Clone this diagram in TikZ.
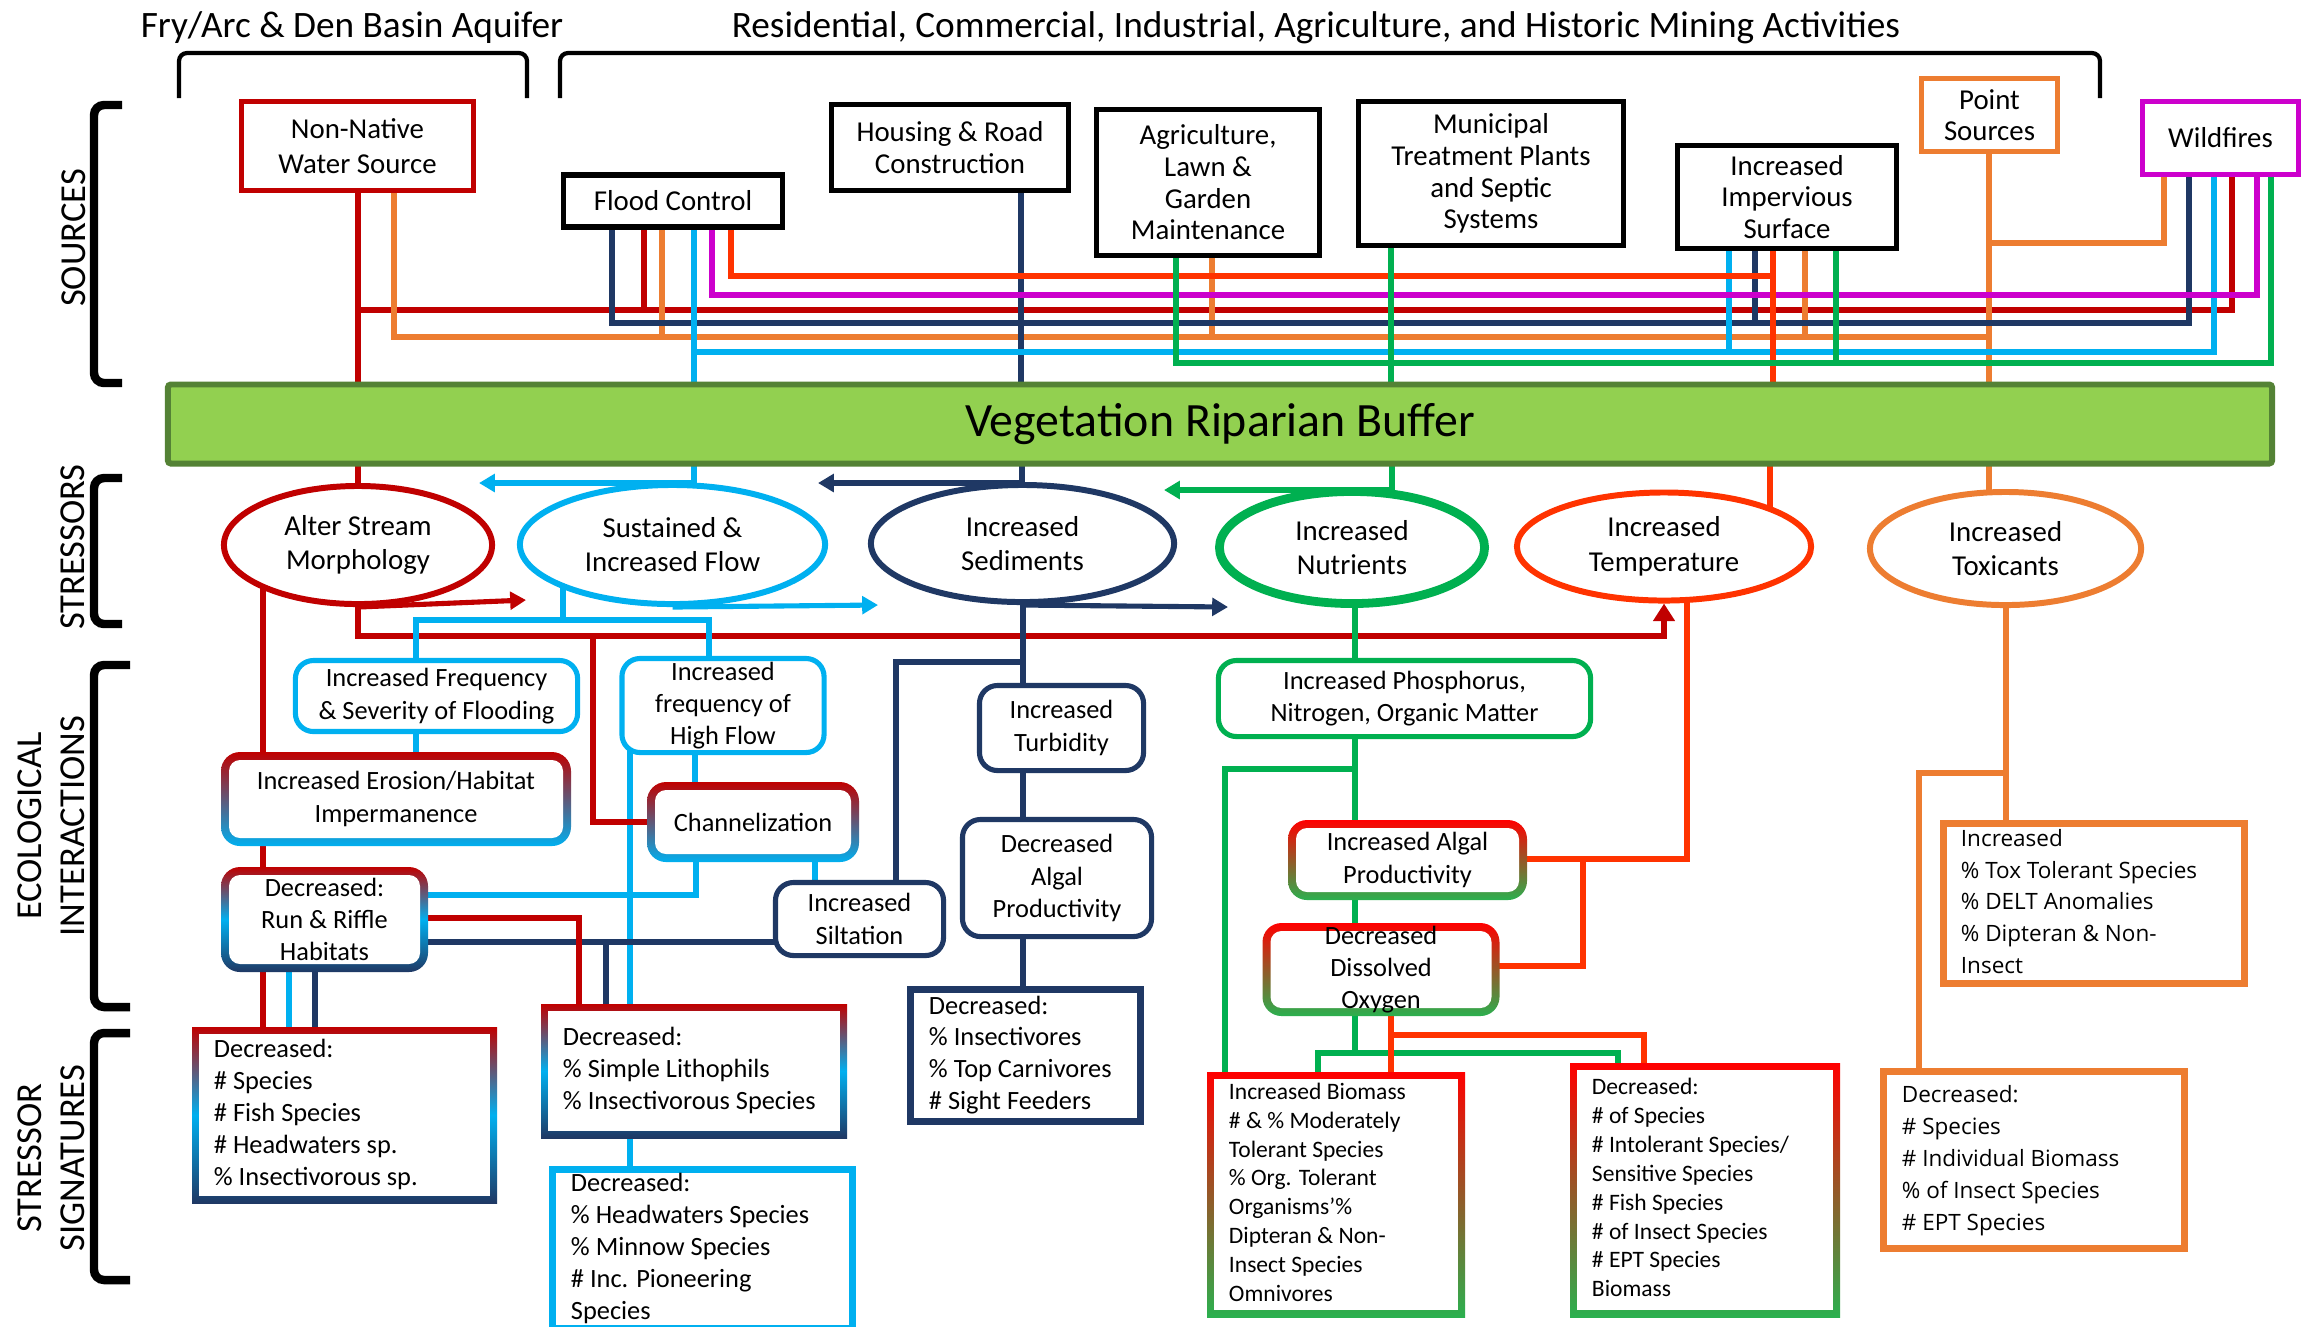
\documentclass[tikz,border=0pt]{standalone}
\usepackage{fontspec}
\setmainfont{Carlito}
\newfontfamily\osans{Open Sans}
\usetikzlibrary{arrows.meta,shapes.geometric}
\pgfdeclarelayer{back}
\pgfdeclarelayer{bg}
\pgfsetlayers{back,bg,main}
\definecolor{dred}{HTML}{C00000}
\definecolor{lblue}{HTML}{00B0F0}
\definecolor{navy}{HTML}{1F3864}
\definecolor{grn}{HTML}{00B050}
\definecolor{ored}{HTML}{FF3300}
\definecolor{orng}{HTML}{ED7D31}
\definecolor{mag}{HTML}{CC00CC}
\definecolor{bufgreen}{HTML}{92D050}
\definecolor{bufedge}{HTML}{548235}
\definecolor{gred}{HTML}{FF0000}
\definecolor{ggrn}{HTML}{2BB04F}
% rounded gradient-bordered box: name, x, y, w, h, shading, text, text options
\newcommand\gbox[8]{%
  \path[#6,rounded corners=0.19cm] ({#2-#4/2},{#3-#5/2}) rectangle ({#2+#4/2},{#3+#5/2});
  \node[fill=white,inner sep=0pt,rounded corners=0.11cm,
        minimum width={(#4-16)*0.01cm},minimum height={(#5-16)*0.01cm}] (#1) at (#2,#3) {};
  \node[inner sep=0pt,align=center,#8] (#1txt) at (#1.center) {#7};}
% sharp gradient-bordered box
\newcommand\gsig[8]{%
  \path[#6] ({#2-#4/2},{#3-#5/2}) rectangle ({#2+#4/2},{#3+#5/2});
  \node[fill=white,inner sep=0pt,
        minimum width={(#4-14)*0.01cm},minimum height={(#5-14)*0.01cm},#8] (#1) at (#2,#3) {#7};}
\newcommand\lft[2]{\makebox[#1][l]{\begin{tabular}{@{}l@{}}#2\end{tabular}}}
\begin{document}
\begin{tikzpicture}[x=0.01cm,y=-0.01cm,
 pipe/.style={line width=1.45pt},
 arrowend/.style={-{Triangle[length=4.5pt,width=5pt]}},
 hdr/.style={inner sep=0pt,font=\fontsize{10.6}{12}\selectfont},
 side/.style={rotate=90,inner sep=0pt,align=center,font=\fontsize{10.4}{12.2}\selectfont},
 hbrk/.style={line width=1.2pt,rounded corners=0.08cm},
 vbrk/.style={line width=2.4pt,rounded corners=0.1cm},
 src/.style={draw,line width=1.45pt,fill=white,inner sep=0pt,align=center,font=\fontsize{8.2}{9}\selectfont},
 ell/.style={ellipse,draw,line width=1.7pt,fill=white,inner sep=0pt,align=center,font=\fontsize{8.2}{9.9}\selectfont},
 ibox/.style={draw,rounded corners=0.18cm,line width=1.45pt,fill=white,inner sep=0pt,align=center,font=\fontsize{7.5}{9.2}\selectfont},
 ifont/.style={align=center,font=\fontsize{7.5}{9.2}\selectfont},
 sfont/.style={font=\fontsize{7.5}{9.07}\selectfont},
 gfont/.style={font=\fontsize{6.7}{8.2}\selectfont},
 ofont/.style={font=\osans\fontsize{6.4}{9.07}\selectfont},
 sbox/.style={draw,line width=2pt,fill=white,inner sep=0pt}]
\useasboundingbox (0,0) rectangle (2310,1326);

% ---------- headers and brackets ----------
\node[hdr] (hfry) at (352,28) {Fry/Arc \& Den Basin Aquifer};
\node[hdr] (hres) at (1316,28) {Residential, Commercial, Industrial, Agriculture, and Historic Mining Activities};
\draw[hbrk] (179,98) -- (179,53) -- (527,53) -- (527,98);
\draw[hbrk] (560,98) -- (560,53) -- (2100,53) -- (2100,98);
\draw[vbrk] (122,105) -- (94,105) -- (94,383) -- (122,383);
\draw[vbrk] (122,478) -- (94,478) -- (94,624) -- (122,624);
\draw[vbrk] (130,665) -- (94,665) -- (94,1007) -- (130,1007);
\draw[vbrk] (130,1033) -- (94,1033) -- (94,1280) -- (130,1280);
\node[side] (lsrc) at (74,238) {SOURCES};
\node[side] (lstr) at (73,547) {STRESSORS};
\node[side] (leco) at (51,826) {ECOLOGICAL\\INTERACTIONS};
\node[side] (lsig) at (51,1158) {STRESSOR\\SIGNATURES};

% ---------- buffer ----------
\node[draw=bufedge,fill=bufgreen,line width=1.7pt,minimum width=21.03cm,minimum height=0.79cm,inner sep=0pt,
      rounded corners=0.03cm,font=\fontsize{13.6}{16}\selectfont] (buf) at (1220,424) {Vegetation Riparian Buffer};

% ---------- sources ----------
\node[src,draw=dred,minimum width=2.32cm,minimum height=0.89cm,font=\fontsize{8.2}{10}\selectfont] (nnws) at (357.5,146) {Non-Native\\Water Source};
\node[src,minimum width=2.19cm,minimum height=0.52cm] (flood) at (673,201) {Flood Control};
\node[src,minimum width=2.37cm,minimum height=0.86cm] (housing) at (950,147.5) {Housing \& Road\\Construction};
\node[src,minimum width=2.23cm,minimum height=1.46cm] (agri) at (1208,182.5) {Agriculture,\\Lawn \&\\Garden\\Maintenance};
\node[src,minimum width=2.65cm,minimum height=1.44cm] (muni) at (1491,173.5) {Municipal\\Treatment Plants\\and Septic\\Systems};
\node[src,minimum width=2.19cm,minimum height=1.03cm] (imperv) at (1787,197) {Increased\\Impervious\\Surface};
\node[src,draw=orng,minimum width=1.36cm,minimum height=0.73cm] (point) at (1989.5,115) {Point\\Sources};
\node[src,draw=mag,minimum width=1.56cm,minimum height=0.73cm] (wild) at (2220.5,138) {Wildfires};

% ---------- stressors ----------
\node[ell,draw=dred,minimum width=2.68cm,minimum height=1.18cm] (asm) at (358,545) {Alter Stream\\Morphology};
\node[ell,draw=lblue,minimum width=3.05cm,minimum height=1.19cm] (sif) at (672.5,544.5) {Sustained \&\\Increased Flow};
\node[ell,draw=navy,minimum width=3.03cm,minimum height=1.17cm] (ised) at (1022.5,543.5) {Increased\\Sediments};
\node[ell,draw=grn,line width=2.5pt,minimum width=2.65cm,minimum height=1.12cm] (inut) at (1352,547.5) {Increased\\Nutrients};
\node[ell,draw=ored,minimum width=2.94cm,minimum height=1.08cm] (itemp) at (1664,546.5) {Increased\\Temperature};
\node[ell,draw=orng,minimum width=2.71cm,minimum height=1.13cm] (itox) at (2005.5,548.5) {Increased\\Toxicants};

% ---------- ecological interactions ----------
\node[ibox,draw=lblue,minimum width=2.82cm,minimum height=0.71cm] (flooding) at (436.5,696) {Increased Frequency\\\& Severity of Flooding};
\node[ibox,draw=lblue,minimum width=2.02cm,minimum height=0.94cm] (highflow) at (723,705.5) {Increased\\frequency of\\High Flow};
\node[ibox,draw=navy,minimum width=1.64cm,minimum height=0.85cm] (turb) at (1061.5,728) {Increased\\Turbidity};
\node[ibox,draw=navy,minimum width=1.89cm,minimum height=1.17cm] (dalg) at (1057,878) {Decreased\\Algal\\Productivity};
\node[ibox,draw=navy,minimum width=1.68cm,minimum height=0.73cm] (silt) at (859.5,919) {Increased\\Siltation};
\node[ibox,draw=grn,minimum width=3.72cm,minimum height=0.76cm] (phos) at (1404.5,698.5) {Increased Phosphorus,\\Nitrogen, Organic Matter};
\gbox{eros}{396}{799}{350}{94}{top color=dred,bottom color=lblue}{Increased Erosion/Habitat\\Impermanence}{ifont}
\gbox{chan}{753}{822}{212}{80}{top color=dred,bottom color=lblue}{Channelization}{ifont}
\gbox{rr}{324.5}{919.5}{207}{105}{top color=dred,bottom color=navy,middle color=lblue}{Decreased:\\Run \& Riffle\\Habitats}{ifont}
\gbox{ialg}{1407.5}{860}{239}{80}{top color=gred,bottom color=ggrn}{Increased Algal\\Productivity}{ifont}
\gbox{ddo}{1381}{969.5}{237}{93}{top color=gred,bottom color=ggrn}{Decreased\\Dissolved\\Oxygen}{ifont}

% ---------- stressor signatures ----------
\gsig{sigA}{344.5}{1115}{305}{176}{top color=dred,bottom color=navy,middle color=lblue}%
  {\lft{2.61cm}{Decreased:\\\# Species\\\# Fish Species\\\# Headwaters sp.\\\% Insectivorous sp.}}{sfont}
\gsig{sigB}{694}{1071}{306}{134}{top color=dred,bottom color=navy,middle color=lblue}%
  {\lft{2.62cm}{Decreased:\\\% Simple Lithophils\\\% Insectivorous Species}}{sfont}
\node[sbox,draw=lblue,minimum width=3.00cm,minimum height=1.59cm,sfont] (sigC) at (702.5,1249)
  {\lft{2.63cm}{Decreased:\\\% Headwaters Species\\\% Minnow Species\\\# Inc. Pioneering\\Species}};
\node[sbox,draw=navy,minimum width=2.30cm,minimum height=1.32cm,sfont] (sigD) at (1025.5,1055.5)
  {\lft{1.93cm}{Decreased:\\\% Insectivores\\\% Top Carnivores\\\# Sight Feeders}};
\gsig{sigE}{1336}{1194.5}{258}{245}{top color=gred,bottom color=ggrn}%
  {\lft{2.14cm}{Increased Biomass\\\# \& \% Moderately\\Tolerant Species\\\% Org. Tolerant\\Organisms’\%\\Dipteran \& Non-\\Insect Species\\Omnivores}}{gfont}
\gsig{sigF}{1705}{1190}{270}{254}{top color=gred,bottom color=ggrn}%
  {\lft{2.26cm}{Decreased:\\\# of Species\\\# Intolerant Species/\\Sensitive Species\\\# Fish Species\\\# of Insect Species\\\# EPT Species\\Biomass}}{gfont}
\node[sbox,draw=orng,minimum width=3.01cm,minimum height=1.53cm,ofont] (sigG) at (2094,903.5)
  {\lft{2.66cm}{Increased\\\% Tox Tolerant Species\\\% DELT Anomalies\\\% Dipteran \& Non-\\Insect}};
\node[sbox,draw=orng,minimum width=3.01cm,minimum height=1.77cm,ofont] (sigH) at (2034,1160)
  {\lft{2.64cm}{Decreased:\\\# Species\\\# Individual Biomass\\\% of Insect Species\\\# EPT Species}};

% ---------- arrow tips (free ends) ----------
\coordinate (tA) at (479,483);
\coordinate (tB) at (818,483);
\coordinate (tC) at (1164,490);
\coordinate (tD) at (526,600);
\coordinate (tE) at (878,605);
\coordinate (tF) at (1228,607);

\begin{pgfonlayer}{back}
\fill[white] (0,0) rectangle (2310,1326);
\end{pgfonlayer}

\begin{pgfonlayer}{bg}
% sources -> buffer
\draw[pipe,dred] (nnws.center -| 358,0) -- (buf.center -| 358,0);
\draw[pipe,dred] (flood.center -| 644,0) -- (644,310);
\draw[pipe,dred] (nnws.center -| 358,0) -- (358,310) -- (2232,310) -- (wild.center -| 2232,0);
\draw[pipe,orng] (nnws.center -| 394,0) -- (394,337) -- (1989,337);
\draw[pipe,orng] (flood.center -| 662,0) -- (662,337);
\draw[pipe,orng] (agri.center -| 1212,0) -- (1212,337);
\draw[pipe,orng] (imperv.center -| 1805,0) -- (1805,337);
\draw[pipe,orng] (point.center -| 1989,0) -- (buf.center -| 1989,0);
\draw[pipe,orng] (wild.center -| 2164,0) -- (2164,243) -- (1989,243);
\draw[pipe,navy] (flood.center -| 612,0) -- (612,323) -- (2189,323) -- (wild.center -| 2189,0);
\draw[pipe,navy] (housing.center -| 1021,0) -- (buf.center -| 1021,0);
\draw[pipe,navy] (imperv.center -| 1755,0) -- (1755,323);
\draw[pipe,lblue] (flood.center -| 694,0) -- (buf.center -| 694,0);
\draw[pipe,lblue] (694,352) -- (2214,352) -- (wild.center -| 2214,0);
\draw[pipe,lblue] (imperv.center -| 1729,0) -- (1729,352);
\draw[pipe,mag] (flood.center -| 712,0) -- (712,295) -- (2257,295) -- (wild.center -| 2257,0);
\draw[pipe,ored] (flood.center -| 731,0) -- (731,276) -- (1773,276);
\draw[pipe,ored] (imperv.center -| 1773,0) -- (buf.center -| 1773,0);
\draw[pipe,grn] (agri.center -| 1176,0) -- (1176,363) -- (2271,363) -- (wild.center -| 2271,0);
\draw[pipe,grn] (muni.center -| 1391,0) -- (buf.center -| 1391,0);
\draw[pipe,grn] (imperv.center -| 1836,0) -- (1836,363);
% buffer -> stressors
\draw[pipe,dred] (buf.center -| 358,0) -- (asm.center);
\draw[pipe,lblue,arrowend] (buf.center -| 694,0) -- (694,483) -- (tA);
\draw[pipe,navy,arrowend] (buf.center -| 1022,0) -- (1022,483) -- (tB);
\draw[pipe,grn,arrowend] (buf.center -| 1392,0) -- (1392,490) -- (tC);
\draw[pipe,ored] (buf.center -| 1770,0) -- (itemp.center -| 1770,0);
\draw[pipe,orng] (buf.center -| 1989,0) -- (itox.center -| 1989,0);
\draw[pipe,dred,arrowend] (asm.south) -- (tD);
\draw[pipe,lblue,arrowend] (sif.south) -- (tE);
\draw[pipe,navy,arrowend] (ised.south) -- (tF);
\draw[pipe,dred,line width=1.7pt,-{Triangle[length=5pt,width=6pt]}] (asm.center) -- (358,636) -- (1664,636) -- (itemp.south);
% light blue interactions
\draw[pipe,lblue] (sif.center -| 563,0) -- (563,620);
\draw[pipe,lblue] (flooding.center -| 416,0) -- (416,620) -- (709,620) -- (highflow.center -| 709,0);
\draw[pipe,lblue] (flooding.center -| 416,0) -- (eros.center -| 416,0);
\draw[pipe,lblue] (highflow.center -| 695,0) -- (chan.center -| 695,0);
\draw[pipe,lblue] (highflow.center -| 630,0) -- (sigC.center -| 630,0);
\draw[pipe,lblue] (chan.center -| 696,0) -- (696,895) -- (rr.center |- 0,895);
\draw[pipe,lblue] (chan.center -| 815,0) -- (silt.center -| 815,0);
% navy interactions
\draw[pipe,navy] (ised.center -| 1023,0) -- (sigD.center -| 1023,0);
\draw[pipe,navy] (1023,662) -- (896,662) -- (silt.center -| 896,0);
\draw[pipe,navy] (silt.center |- 0,942) -- (rr.center |- 0,942);
\draw[pipe,navy] (606,942) -- (sigB.center -| 606,0);
% dark red interactions
\draw[pipe,dred] (asm.center -| 263,0) -- (sigA.center -| 263,0);
\draw[pipe,dred] (593,636) -- (593,822) -- (chan.center);
\draw[pipe,dred] (rr.center |- 0,918) -- (579,918) -- (sigB.center -| 579,0);
\draw[pipe,lblue] (rr.center -| 289,0) -- (sigA.center -| 289,0);
\draw[pipe,navy] (rr.center -| 315,0) -- (sigA.center -| 315,0);
% green interactions
\draw[pipe,grn] (inut.center -| 1355,0) -- (1355,1053);
\draw[pipe,grn] (1355,769) -- (1225,769) -- (sigE.center -| 1225,0);
\draw[pipe,grn] (sigE.center -| 1318,0) -- (1318,1053) -- (1618,1053) -- (sigF.center -| 1618,0);
% temperature interactions
\draw[pipe,ored] (itemp.center -| 1687,0) -- (1687,859) -- (ialg.center |- 0,859);
\draw[pipe,ored] (1583,859) -- (1583,966) -- (ddo.center |- 0,966);
\draw[pipe,ored] (ddo.center -| 1391,0) -- (sigE.center -| 1391,0);
\draw[pipe,ored] (1391,1035) -- (1644,1035) -- (sigF.center -| 1644,0);
% toxicants
\draw[pipe,orng] (itox.center -| 2006,0) -- (sigG.center -| 2006,0);
\draw[pipe,orng] (2006,773) -- (1919,773) -- (sigH.center -| 1919,0);
\end{pgfonlayer}
\end{tikzpicture}
\end{document}
